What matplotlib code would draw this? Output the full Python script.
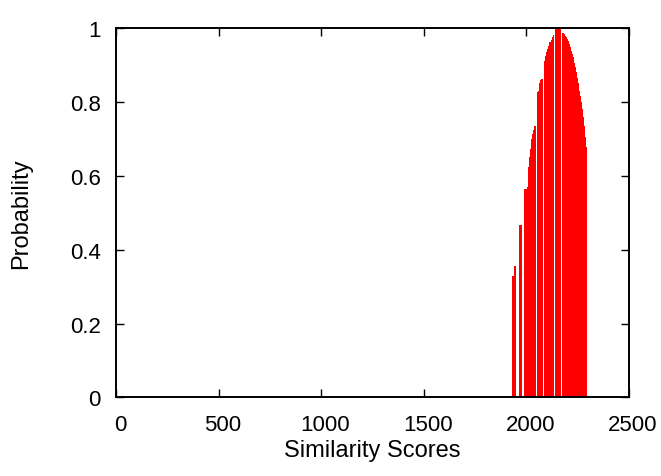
import matplotlib
matplotlib.use("Agg")
import matplotlib.pyplot as plt
import matplotlib.transforms as mtransforms
import numpy as np

plt.rcParams['font.family'] = ['Liberation Sans', 'DejaVu Sans']

scores = [1930, 1935, 1940, 1945, 1950, 1955, 1960, 1965, 1970, 1975,
          1980, 1985, 1990, 1995, 2000, 2005, 2010, 2015, 2020, 2025,
          2030, 2035, 2040, 2045, 2050, 2055, 2060, 2065, 2070, 2075,
          2080, 2085, 2090, 2095, 2100, 2105, 2110, 2115, 2120, 2125,
          2130, 2135, 2140, 2145, 2150, 2155, 2160, 2165, 2170, 2175,
          2180, 2185, 2190, 2195, 2200, 2205, 2210, 2215, 2220, 2225,
          2230, 2235, 2240, 2245, 2250, 2255, 2260, 2265, 2270, 2275,
          2280, 2285, 2290, 2295]
probability = [0.33, 0.33, 0.355, 0.355, 0.0, 0.0, 0.0, 0.467, 0.467, 0.467,
               0.0, 0.0, 0.564, 0.564, 0.564, 0.57, 0.623, 0.65, 0.673, 0.70,
               0.712, 0.725, 0.734, 0.736, 0.0, 0.826, 0.83, 0.85, 0.86, 0.862,
               0.862, 0.0, 0.912, 0.925, 0.934, 0.944, 0.952, 0.961, 0.968, 0.976,
               0.981, 0.0, 1.0, 1.0, 1.0, 1.0, 1.0, 1.0, 0.0, 0.986,
               0.986, 0.983, 0.979, 0.975, 0.970, 0.965, 0.957, 0.948, 0.939, 0.930,
               0.921, 0.905, 0.895, 0.880, 0.865, 0.850, 0.830, 0.815, 0.800, 0.780,
               0.760, 0.735, 0.705, 0.678]

x_ticks = [0, 500, 1000, 1500, 2000, 2500]
y_ticks = [0, 0.2, 0.4, 0.6, 0.8, 1]
y_tick_labels = ["0", "0.2", "0.4", "0.6", "0.8", "1"]

fig = plt.figure(figsize=(6.61, 4.77), dpi=100)
ax = fig.add_axes([0.1755, 0.1646, 0.9516 - 0.1755, 0.9392 - 0.1646])
ax.set_axisbelow(True)

ax.bar(scores, probability, width=5, color='#ff0000', edgecolor='none',
       linewidth=0, align='center')

ax.set_xlim(0, 2500)
ax.set_ylim(0, 1)
ax.set_xticks(x_ticks)
ax.set_xticklabels([str(t) for t in x_ticks])
ax.set_yticks(y_ticks)
ax.set_yticklabels(y_tick_labels)

ax.tick_params(direction='in', length=6, width=1, top=True, right=True,
               labelsize=16, colors='black')
ax.tick_params(axis='x', pad=12)
ax.tick_params(axis='y', pad=11)
shift = mtransforms.ScaledTranslation(4 / 100, 0, fig.dpi_scale_trans)
for lab in ax.get_xticklabels():
    lab.set_transform(lab.get_transform() + shift)
for s in ax.spines.values():
    s.set_linewidth(1.4)
    s.set_color('black')
    s.set_zorder(3)

ax.set_xlabel("Similarity Scores", fontsize=17)
ax.set_ylabel("Probability", fontsize=17)
ax.xaxis.set_label_coords(0.5, -0.112)
ax.yaxis.set_label_coords(-0.164, 0.5)

fig.savefig("out.png", dpi=100)
